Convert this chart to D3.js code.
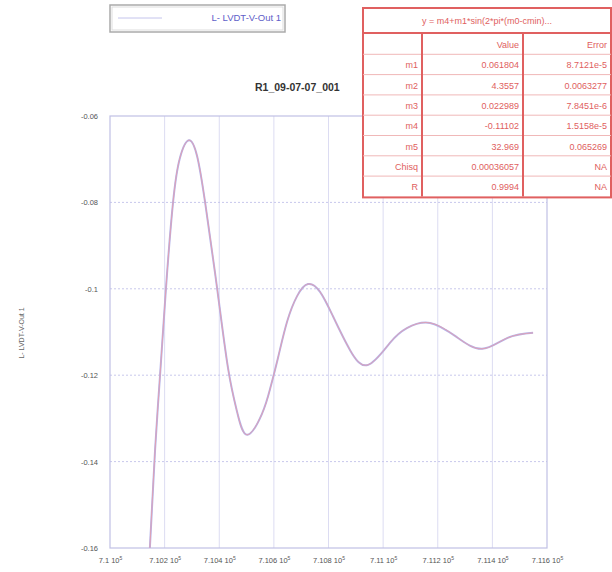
<!DOCTYPE html>
<html>
<head>
<meta charset="utf-8">
<script src="https://cdn.jsdelivr.net/npm/d3@7"></script>
<style>
  body { margin: 0; background: #fff; }
  svg { font-family: "Liberation Sans", Arial, sans-serif; }
</style>
</head>
<body>
<svg width="612" height="572"></svg>
<script>
// time (x) and LVDT signal (y)
var times = [710146, 710165, 710183, 710205, 710231, 710256, 710289, 710319, 710348, 710392,
  710432, 710465, 710502, 710556, 710586, 710615, 710648, 710685, 710725, 710769, 710816,
  710879, 710945, 711025, 711087, 711172, 711270, 711362, 711454, 711549];
var signal = [-0.1600, -0.1373, -0.1202, -0.0998, -0.0799, -0.0697, -0.0656, -0.0693, -0.0799, -0.0998,
  -0.1183, -0.1284, -0.1338, -0.1290, -0.1232, -0.1160, -0.1077, -0.1017, -0.0989, -0.1007, -0.1063,
  -0.1142, -0.1176, -0.1125, -0.1091, -0.1079, -0.1112, -0.1139, -0.1114, -0.1102];

var xTicks = [710000, 710200, 710400, 710600, 710800, 711000, 711200, 711400, 711600];
var xTickLabels = ['7.1', '7.102', '7.104', '7.106', '7.108', '7.11', '7.112', '7.114', '7.116'];
var yTicks = [-0.06, -0.08, -0.1, -0.12, -0.14, -0.16];
var yTickLabels = ['-0.06', '-0.08', '-0.1', '-0.12', '-0.14', '-0.16'];

var paramNames = ['m1', 'm2', 'm3', 'm4', 'm5', 'Chisq', 'R'];
var paramValues = ['0.061804', '4.3557', '0.022989', '-0.11102', '32.969', '0.00036057', '0.9994'];
var paramErrors = ['8.7121e-5', '0.0063277', '7.8451e-6', '1.5158e-5', '0.065269', 'NA', 'NA'];

var seriesName = 'L- LVDT-V-Out 1';
var title = 'R1_09-07-07_001';
var formula = 'y = m4+m1*sin(2*pi*(m0-cmin)...';

var plotLeft = 110, plotRight = 547, plotTop = 116, plotBottom = 548;

var svg = d3.select('svg');

var x = d3.scaleLinear().domain([710000, 711600]).range([plotLeft, plotRight]);
var y = d3.scaleLinear().domain([-0.16, -0.06]).range([plotBottom, plotTop]);

// grid
svg.append('g')
  .selectAll('line')
  .data(xTicks.slice(1, -1))
  .enter()
  .append('line')
  .attr('x1', d => x(d)).attr('x2', d => x(d))
  .attr('y1', plotTop).attr('y2', plotBottom)
  .attr('stroke', '#dcdcf2')
  .attr('stroke-width', 1);

svg.append('g')
  .selectAll('line')
  .data(yTicks.slice(1, -1))
  .enter()
  .append('line')
  .attr('x1', plotLeft).attr('x2', plotRight)
  .attr('y1', d => y(d)).attr('y2', d => y(d))
  .attr('stroke', '#c8c8ec')
  .attr('stroke-dasharray', '2,2')
  .attr('stroke-width', 1);

svg.append('rect')
  .attr('x', plotLeft).attr('y', plotTop)
  .attr('width', plotRight - plotLeft).attr('height', plotBottom - plotTop)
  .attr('fill', 'none')
  .attr('stroke', '#c0c0e4')
  .attr('stroke-width', 1.2);

// axes labels
var yAxis = d3.axisLeft(y)
  .tickValues(yTicks)
  .tickFormat((d, i) => yTickLabels[i])
  .tickSize(0)
  .tickPadding(12);

svg.append('g')
  .attr('transform', 'translate(' + plotLeft + ',0)')
  .call(yAxis)
  .call(g => g.select('.domain').remove())
  .selectAll('text')
  .attr('font-size', 7.5)
  .attr('fill', '#555');

var xAxis = d3.axisBottom(x)
  .tickValues(xTicks)
  .tickFormat('')
  .tickSize(0);

var xg = svg.append('g')
  .attr('transform', 'translate(0,' + plotBottom + ')')
  .call(xAxis)
  .call(g => g.select('.domain').remove());

xg.selectAll('.tick')
  .append('text')
  .attr('y', 15)
  .attr('text-anchor', 'middle')
  .attr('font-size', 7.5)
  .attr('fill', '#555')
  .each(function(d, i) {
    var t = d3.select(this);
    t.append('tspan').text(xTickLabels[i] + ' 10');
    t.append('tspan').attr('dy', -3).attr('font-size', 5).text('5');
  });

svg.append('text')
  .attr('transform', 'translate(24,333) rotate(-90)')
  .attr('text-anchor', 'middle')
  .attr('font-size', 7)
  .attr('fill', '#666')
  .text(seriesName);

// curves
svg.append('clipPath').attr('id', 'clip')
  .append('rect')
  .attr('x', plotLeft).attr('y', plotTop)
  .attr('width', plotRight - plotLeft).attr('height', plotBottom - plotTop);

var line = d3.line()
  .x((d, i) => x(times[i]))
  .y(d => y(d))
  .curve(d3.curveNatural);

svg.append('path')
  .datum(signal)
  .attr('clip-path', 'url(#clip)')
  .attr('fill', 'none')
  .attr('stroke', '#b4b4ea')
  .attr('stroke-width', 2)
  .attr('d', line);

svg.append('path')
  .datum(signal)
  .attr('clip-path', 'url(#clip)')
  .attr('fill', 'none')
  .attr('stroke', '#e0a0b4')
  .attr('stroke-width', 1)
  .attr('d', line);

// title
svg.append('text')
  .attr('x', 255).attr('y', 91)
  .attr('font-size', 10.5)
  .attr('font-weight', 'bold')
  .attr('fill', '#333')
  .text(title);

// legend
var legend = svg.append('g');
legend.append('rect')
  .attr('x', 110).attr('y', 5).attr('width', 175).attr('height', 27)
  .attr('fill', '#fff')
  .attr('stroke', '#aaa')
  .attr('stroke-width', 1.5);
legend.append('rect')
  .attr('x', 112).attr('y', 7).attr('width', 171).attr('height', 23)
  .attr('fill', 'none')
  .attr('stroke', '#ddd')
  .attr('stroke-width', 1);
legend.append('line')
  .attr('x1', 118).attr('x2', 162).attr('y1', 18).attr('y2', 18)
  .attr('stroke', '#c4c4ec').attr('stroke-width', 1);
legend.append('text')
  .attr('x', 281).attr('y', 21)
  .attr('text-anchor', 'end')
  .attr('font-size', 9.5)
  .attr('fill', '#6060c8')
  .text(seriesName);

// fit table
var tx = 363, tw = 248, ty = 8, headH = 25, rowH = 20.3;
var cols = [363, 422, 523, 611];
var nRows = paramNames.length + 1;
var tb = svg.append('g');
var red = '#e06060';

tb.append('rect')
  .attr('x', tx).attr('y', ty).attr('width', tw).attr('height', headH + nRows * rowH + 2)
  .attr('fill', '#fff')
  .attr('stroke', red).attr('stroke-width', 2);
tb.append('text')
  .attr('x', tx + tw / 2).attr('y', ty + 16)
  .attr('text-anchor', 'middle')
  .attr('font-size', 9)
  .attr('fill', red)
  .text(formula);
tb.append('line')
  .attr('x1', tx).attr('x2', tx + tw)
  .attr('y1', ty + headH).attr('y2', ty + headH)
  .attr('stroke', red).attr('stroke-width', 2);

var rowsTop = ty + headH + 1;
var rowData = [['', 'Value', 'Error']].concat(paramNames.map((n, i) => [n, paramValues[i], paramErrors[i]]));

tb.selectAll('.hline')
  .data(d3.range(1, nRows))
  .enter()
  .append('line')
  .attr('x1', tx).attr('x2', tx + tw)
  .attr('y1', d => rowsTop + d * rowH).attr('y2', d => rowsTop + d * rowH)
  .attr('stroke', '#f0b8b8').attr('stroke-width', 1);

tb.selectAll('.vline')
  .data([cols[1], cols[2]])
  .enter()
  .append('line')
  .attr('x1', d => d).attr('x2', d => d)
  .attr('y1', ty + headH).attr('y2', rowsTop + nRows * rowH)
  .attr('stroke', red).attr('stroke-width', 2);

rowData.forEach(function(row, r) {
  row.forEach(function(cell, c) {
    tb.append('text')
      .attr('x', cols[c + 1] - 4)
      .attr('y', rowsTop + r * rowH + 14)
      .attr('text-anchor', 'end')
      .attr('font-size', 9)
      .attr('fill', red)
      .text(cell);
  });
});
</script>
</body>
</html>
